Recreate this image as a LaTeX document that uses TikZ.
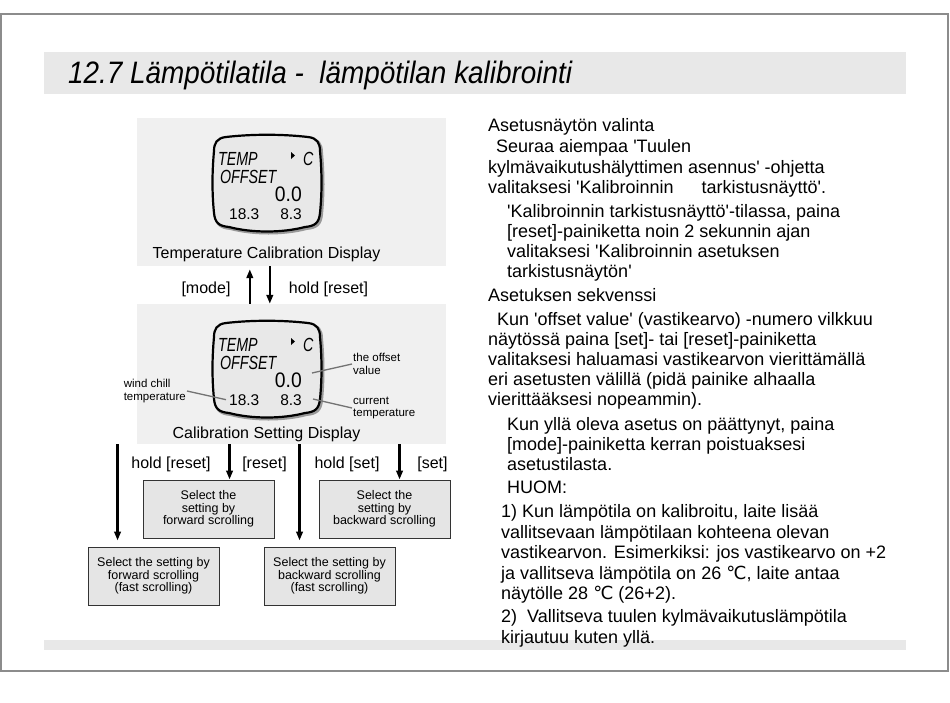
\documentclass[tikz,border=0pt]{standalone}
\usepackage{fontspec}
\setmainfont{Liberation Sans}[Ligatures=TeXOff]
\newfontfamily\symfont{DejaVu Sans}
\usetikzlibrary{arrows.meta, positioning, calc, shadows}

% outline of the little LCD screen, centred on (0,0)
\tikzset{
  lcd outline/.pic={
    \path[pic actions] (-41,-46) .. controls (-15,-49) and (15,-49) .. (41,-46)
      .. controls (50,-45) and (53,-40) .. (53,-32)
      .. controls (55,-10) and (55,10) .. (53,30)
      .. controls (52,40) and (48,43) .. (38,44)
      .. controls (15,50) and (-15,50) .. (-38,44)
      .. controls (-48,43) and (-52,40) .. (-53,30)
      .. controls (-55,10) and (-55,-10) .. (-53,-32)
      .. controls (-53,-40) and (-50,-45) .. (-41,-46) -- cycle;
  }
}

% LCD screen: #1 name prefix, #2 x, #3 y
\newcommand{\lcdscreen}[3]{%
  \begin{scope}[shift={(#2,#3)}]
    \pic[draw=black!40, line width=3pt] at (1.5,1.5) {lcd outline};
    \pic[draw=black, fill=black!9, line width=2.2pt] at (0,0) {lcd outline};
    \node[lcd italic, anchor=base west] (#1-temp) at (-49,-18) {TEMP};
    \fill (24,-31) -- (28,-27.5) -- (24,-24) -- cycle;
    \node[lcd italic, anchor=base west] (#1-unit) at (36,-18) {C};
    \node[lcd italic, anchor=base west] (#1-offset) at (-47,0) {OFFSET};
    \node[lcd big, anchor=base east] (#1-val) at (35,18) {0.0};
    \node[lcd small, anchor=base west] (#1-wc) at (-38,36) {18.3};
    \node[lcd small, anchor=base east] (#1-cur) at (35,36) {8.3};
  \end{scope}}

\begin{document}
\begin{tikzpicture}[
    x=1pt, y=-1pt,
    >={Triangle[length=9pt, width=6.5pt]},
    % Style definitions
    frame line/.style={draw=black!45, line width=1.6pt},
    band/.style={fill=black!9},
    panel/.style={fill=black!6, minimum width=309pt, inner sep=0pt},
    stepbox/.style={draw=black!80, fill=black!10, line width=0.9pt, minimum width=131pt,
        minimum height=58pt, inner sep=0pt, align=center,
        font=\fontsize{12.5}{12.5}\selectfont,
        drop shadow={shadow xshift=1.2pt, shadow yshift=-1.2pt, fill=black!55, opacity=1}},
    flow/.style={line width=2.4pt, ->},
    % Text styles
    caption/.style={font=\fontsize{16}{18}\selectfont, inner sep=0pt},
    key text/.style={font=\fontsize{16}{18}\selectfont, inner sep=0pt, anchor=base},
    callout/.style={font=\fontsize{11.5}{12.5}\selectfont, inner sep=1pt, align=left},
    callout line/.style={draw=black!55, line width=1.3pt},
    body text/.style={font=\fontsize{18}{20}\selectfont, inner sep=0pt, anchor=base west},
    lcd italic/.style={font=\fontsize{19}{20}\selectfont\itshape, inner sep=0pt, xscale=0.75, transform shape},
    lcd big/.style={font=\fontsize{21}{22}\selectfont, inner sep=0pt, xscale=0.92, transform shape},
    lcd small/.style={font=\fontsize{15.5}{16}\selectfont, inner sep=0pt}
]
\useasboundingbox (0,0) rectangle (950,702);

% ==========================================
% 1. PAGE FRAME AND TITLE
% ==========================================

\draw[frame line] (1,14) rectangle (948,671);
\fill[band] (44,52) rectangle (906,94);
\fill[band] (44,640) rectangle (906,650);
\node[font=\fontsize{31}{32}\selectfont\itshape, inner sep=0pt, anchor=base west,
      xscale=0.9, transform shape] (title) at (68,83)
     {12.7 Lämpötilatila -\ \ lämpötilan kalibrointi};

% ==========================================
% 2. DISPLAYS (Left)
% ==========================================

% Temperature calibration display
\node[panel, minimum height=148pt] (calib) at (291.5,192) {};
\lcdscreen{lcdA}{267}{183}
\node[caption, anchor=base] (calibcap) at (266.5,258) {Temperature Calibration Display};

% Calibration setting display
\node[panel, minimum height=140pt] (setting) at (291.5,374) {};
\lcdscreen{lcdB}{267}{369}
\node[caption, anchor=base] (settingcap) at (266.5,438) {Calibration Setting Display};

% Callouts
\node[callout, anchor=east] (wclbl) at (187,391) {wind chill\\temperature};
\node[callout, anchor=west] (ofslbl) at (352,364) {the offset\\value};
\node[callout, anchor=west] (curlbl) at (352,408) {current\\temperature};
\coordinate (ofsend) at (312,373);
\coordinate (curend) at (313,399);
\draw[callout line] (wclbl.east) -- ([xshift=-3pt]lcdB-wc.west);
\draw[callout line] (ofslbl.west) -- (ofsend);
\draw[callout line] (curlbl.west) -- (curend);

% Arrows between the displays
\draw[flow] ([xshift=113pt]setting.north west) -- ([xshift=113pt,yshift=-3pt]calib.south west);
\draw[flow] ([xshift=133pt]calib.south west) -- ([xshift=133pt]setting.north west);
\node[key text] (modekey) at (206,293) {[mode]};
\node[key text] (holdkey) at (328.5,293) {hold [reset]};

% ==========================================
% 3. SCROLLING STEPS (Bottom Left)
% ==========================================

\node[stepbox] (fwd) at (208.5,509) {Select the\\setting by\\forward scrolling};
\node[stepbox] (bwd) at (384.5,509) {Select the\\setting by\\backward scrolling};
\node[stepbox] (fwdfast) at (153.5,576) {Select the setting by\\forward scrolling\\(fast scrolling)};
\node[stepbox] (bwdfast) at (329.5,576) {Select the setting by\\backward scrolling\\(fast scrolling)};

\draw[flow] ([xshift=30pt]fwdfast.north west |- setting.south) -- ([xshift=30pt,yshift=6pt]fwdfast.north west);
\draw[flow] ([xshift=87pt]fwd.north west |- setting.south) -- ([xshift=87pt]fwd.north west);
\draw[flow] ([xshift=36pt]bwdfast.north west |- setting.south) -- ([xshift=36pt,yshift=6pt]bwdfast.north west);
\draw[flow] ([xshift=81pt]bwd.north west |- setting.south) -- ([xshift=81pt]bwd.north west);

\node[key text] (k1) at (171,468) {hold [reset]};
\node[key text] (k2) at (264.5,468) {[reset]};
\node[key text] (k3) at (347,468) {hold [set]};
\node[key text] (k4) at (432.5,468) {[set]};

% ==========================================
% 4. INSTRUCTIONS (Right)
% ==========================================

\foreach \i/\x/\y/\txt in {
    1/488/131/{Asetusnäytön valinta},
    2/496/152/{Seuraa aiempaa 'Tuulen},
    3/488/173/{kylmävaikutushälyttimen asennus' -ohjetta},
    4/488/193/{valitaksesi 'Kalibroinnin\hspace{28pt}tarkistusnäyttö'.},
    5/507/217/{'Kalibroinnin tarkistusnäyttö'-tilassa, paina},
    6/507/237/{[reset]-painiketta noin 2 sekunnin ajan},
    7/507/257/{valitaksesi 'Kalibroinnin asetuksen},
    8/507/277/{tarkistusnäytön'},
    9/488/301/{Asetuksen sekvenssi},
    10/497/325/{Kun 'offset value' (vastikearvo) -numero vilkkuu},
    11/488/345/{näytössä paina [set]- tai [reset]-painiketta},
    12/488/365/{valitaksesi haluamasi vastikearvon vierittämällä},
    13/488/385/{eri asetusten välillä (pidä painike alhaalla},
    14/488/405/{vierittääksesi nopeammin).},
    15/507/430/{Kun yllä oleva asetus on päättynyt, paina},
    16/507/450/{[mode]-painiketta kerran poistuaksesi},
    17/507/470/{asetustilasta.},
    18/507/493/{HUOM:},
    19/501/517/{1) Kun lämpötila on kalibroitu, laite lisää},
    20/501/538/{vallitsevaan lämpötilaan kohteena olevan},
    21/501/558/{vastikearvon. Esimerkiksi: jos vastikearvo on +2},
    22/501/579/{ja vallitseva lämpötila on 26 {\symfont ℃}, laite antaa},
    23/501/599/{näytölle 28 {\symfont ℃} (26+2).},
    24/501/622/{2)\ \ Vallitseva tuulen kylmävaikutuslämpötila},
    25/501/643/{kirjautuu kuten yllä.}}
  \node[body text] (t\i) at (\x,\y) {\txt};

\end{tikzpicture}
\end{document}
